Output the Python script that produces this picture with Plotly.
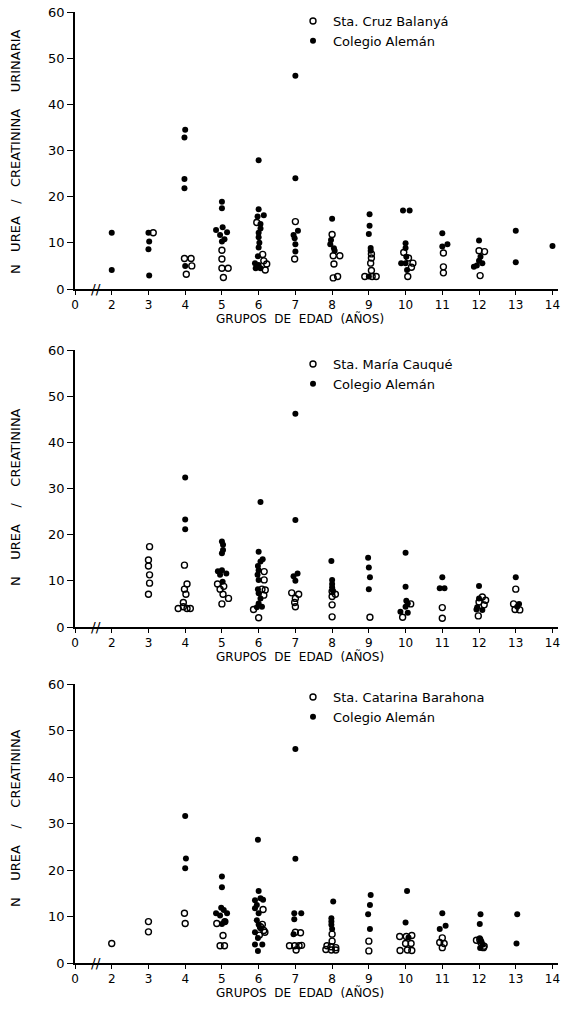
import plotly.graph_objects as go

# ---------------- data ----------------
# x = age group (the "0" tick sits at position 1, axis is broken between 0 and 2);
# small deviations from the integer age reproduce the side-by-side placement of points.
p1_open_x = [3.13, 3.98, 4.16, 4.18, 4.03, 5.0, 5.0, 5.0, 5.17, 5.04, 5.95, 6.11, 6.14, 6.22, 6.18,
             7.0, 6.98, 8.0, 8.03, 8.21, 8.05, 8.03, 8.15, 9.07, 9.07, 9.05, 9.07, 8.89, 9.09, 9.2,
             9.95, 10.08, 10.2, 10.16, 10.06, 11.03, 11.03, 11.03, 12.0, 12.15, 12.03]
p1_open_y = [12.2, 6.6, 6.6, 5.0, 3.2, 8.4, 6.5, 4.5, 4.5, 2.5, 14.4, 7.5, 6.1, 5.4, 4.1,
             14.6, 6.5, 11.8, 7.2, 7.2, 5.4, 2.4, 2.7, 7.6, 6.7, 5.6, 4.0, 2.7, 2.7, 2.7,
             7.9, 6.7, 5.6, 4.7, 2.7, 7.8, 4.8, 3.5, 8.3, 8.1, 2.9]
p1_fill_x = [2.0, 2.0, 3.0, 3.02, 3.0, 3.02, 4.0, 3.98, 3.98, 3.98, 4.0,
             5.0, 5.0, 4.84, 5.02, 4.95, 5.14, 5.07, 5.0,
             6.0, 6.0, 5.97, 6.14, 6.05, 6.05, 6.0, 6.0, 6.02, 6.0, 5.98, 5.9, 6.0, 5.92, 6.05,
             7.0, 7.0, 7.07, 6.95, 6.98, 7.0, 7.0,
             8.0, 7.97, 7.95, 8.05, 8.07, 9.02, 9.02, 9.0, 9.05, 9.05, 9.0,
             9.93, 10.11, 10.0, 10.0, 10.02, 9.88, 10.0, 10.04, 11.0, 11.0, 11.14,
             12.0, 12.04, 12.0, 12.09, 11.94, 11.86, 13.0, 13.0, 14.0]
p1_fill_y = [12.2, 4.1, 12.2, 10.3, 8.6, 2.9, 34.5, 32.8, 23.8, 21.8, 5.0,
             18.9, 17.5, 12.8, 13.4, 11.7, 12.3, 10.8, 10.3,
             27.9, 17.3, 15.7, 16.0, 14.1, 13.1, 12.2, 11.2, 10.0, 9.0, 7.1, 5.6, 5.2, 4.5, 4.5,
             46.2, 24.0, 12.6, 11.7, 11.0, 9.7, 8.1,
             15.2, 10.6, 9.7, 8.8, 8.3, 16.2, 13.7, 11.9, 8.9, 8.3, 2.7,
             17.0, 17.0, 9.9, 8.9, 7.0, 5.6, 5.6, 4.1, 12.1, 9.2, 9.7,
             10.5, 7.0, 6.1, 5.6, 5.1, 4.8, 12.6, 5.8, 9.3]

p2_open_x = [3.03, 3.0, 3.0, 3.03, 3.03, 3.0,
             3.98, 4.05, 3.98, 4.02, 3.95, 3.81, 3.95, 4.05, 4.14,
             4.88, 5.05, 4.95, 5.03, 5.18, 5.0,
             6.15, 6.15, 6.09, 6.18, 6.14, 5.86, 6.0,
             6.9, 7.09, 7.0, 6.98, 7.0, 8.0, 8.09, 8.0, 8.0, 8.0, 9.03, 10.14, 9.92, 11.0, 11.0,
             12.09, 12.18, 12.0, 12.14, 11.98, 13.0, 12.94, 12.98, 13.11]
p2_open_y = [17.4, 14.5, 13.2, 11.3, 9.5, 7.1,
             13.4, 9.3, 8.2, 7.1, 5.3, 4.0, 4.4, 4.0, 4.0,
             9.3, 8.8, 8.2, 7.1, 6.2, 5.0,
             12.0, 10.2, 8.2, 8.0, 6.9, 3.8, 2.0,
             7.4, 7.1, 6.2, 5.3, 4.4, 7.7, 7.1, 6.6, 4.8, 2.2, 2.1, 5.0, 2.1, 4.2, 1.9,
             6.5, 5.8, 5.4, 4.8, 2.4, 8.2, 5.0, 3.8, 3.7]
p2_fill_x = [4.0, 4.0, 4.0, 5.0, 5.03, 5.03, 5.0, 4.89, 5.0, 5.12, 4.95, 5.02,
             6.05, 6.0, 6.11, 6.05, 5.98, 6.0, 5.97, 6.0, 5.98, 6.0, 6.05, 6.0, 5.95, 6.09,
             7.0, 7.0, 7.06, 6.95, 7.0, 7.98, 8.0, 8.0, 8.0, 8.02, 8.98, 9.0, 9.03, 9.0,
             10.0, 10.0, 10.02, 10.06, 10.0, 9.86, 10.06, 11.0, 10.93, 11.06,
             12.0, 12.0, 11.95, 11.93, 12.09, 13.0, 13.09, 13.04]
p2_fill_y = [32.4, 23.3, 21.2, 18.5, 17.8, 16.7, 16.0, 12.1, 12.3, 11.6, 11.3, 9.8,
             27.1, 16.3, 14.7, 14.2, 13.2, 12.3, 11.3, 10.2, 8.2, 7.3, 6.2, 5.1, 4.3, 4.4,
             46.2, 23.2, 11.6, 11.0, 10.0, 14.3, 10.2, 9.3, 8.6, 7.9, 15.0, 12.9, 10.8, 8.2,
             16.1, 8.7, 5.7, 5.1, 4.4, 3.3, 3.1, 10.8, 8.4, 8.4,
             8.9, 6.2, 4.3, 3.8, 3.7, 10.8, 5.0, 4.4]

p3_open_x = [2.0, 3.0, 3.0, 3.98, 4.0, 4.86, 5.08, 5.03, 4.95, 5.07,
             6.12, 6.1, 6.05, 6.14, 6.17, 6.02,
             7.0, 7.14, 6.84, 6.98, 7.1, 7.17, 7.02,
             8.0, 8.0, 7.86, 7.97, 8.1, 7.83, 7.98, 8.1, 9.0, 9.0,
             9.84, 10.02, 10.17, 10.0, 10.15, 9.85, 10.05, 10.17,
             11.0, 10.93, 11.05, 11.0, 11.93, 12.02, 12.05, 12.14, 12.12]
p3_open_y = [4.2, 8.9, 6.7, 10.7, 8.5, 8.5, 8.9, 5.9, 3.7, 3.7,
             11.5, 8.3, 7.8, 7.0, 6.6, 6.0,
             6.6, 6.5, 3.7, 3.7, 3.7, 3.8, 2.8,
             6.2, 4.7, 3.7, 3.5, 3.3, 2.9, 2.8, 2.8, 4.7, 2.6,
             5.7, 5.7, 5.9, 4.2, 4.2, 2.7, 2.8, 2.7,
             5.4, 4.4, 4.2, 3.3, 4.9, 5.0, 4.4, 3.6, 3.3]
p3_fill_x = [4.0, 4.02, 4.0, 5.0, 5.0, 4.98, 5.05, 4.84, 5.14, 4.95, 5.08, 5.0,
             5.98, 6.0, 6.05, 5.9, 6.12, 5.95, 5.9, 6.0, 5.95, 6.0, 6.05, 5.9, 5.98, 5.9, 6.1, 5.98,
             7.0, 7.0, 6.97, 7.16, 6.97, 6.95, 8.03, 7.98, 7.98, 7.98, 8.0,
             9.05, 9.03, 8.98, 9.03, 10.04, 10.0, 10.08, 11.0, 11.09, 10.93,
             12.04, 12.02, 12.02, 12.06, 12.1, 12.03, 13.04, 13.02]
p3_fill_y = [31.6, 22.5, 20.4, 18.6, 16.3, 11.9, 11.4, 10.7, 10.7, 10.2, 8.9, 8.4,
             26.5, 15.5, 13.9, 13.5, 13.6, 12.5, 11.8, 10.7, 9.2, 8.3, 7.5, 6.6, 5.4, 4.0, 4.0, 2.6,
             46.0, 22.4, 10.7, 10.7, 9.4, 6.2, 13.2, 9.6, 8.9, 8.2, 7.3,
             14.6, 12.5, 10.5, 7.3, 15.5, 8.7, 5.5, 10.7, 8.0, 7.3,
             10.5, 8.4, 5.3, 4.6, 3.9, 3.2, 10.5, 4.2]

x_tickvals = [1, 2, 3, 4, 5, 6, 7, 8, 9, 10, 11, 12, 13, 14]
x_ticktext = ["0", "2", "3", "4", "5", "6", "7", "8", "9", "10", "11", "12", "13", "14"]
y_tickvals = [0, 10, 20, 30, 40, 50, 60]

open_names = ["Sta. Cruz Balanyá", "Sta. María Cauqué", "Sta. Catarina Barahona"]
fill_name = "Colegio Alemán"
NB = "\u00a0"
x_title = f"GRUPOS{NB} DE{NB} EDAD{NB} (AÑOS)"
y_titles = [f"N{NB*2} UREA{NB*2} /{NB*2} CREATININA{NB*3} URINARIA",
            f"N{NB*3} UREA{NB*3} /{NB*3} CREATININA",
            f"N{NB*3} UREA{NB*3} /{NB*3} CREATININA"]

# ---------------- figure ----------------
W, H = 564, 1011
FONT = "DejaVu Sans"
fig = go.Figure()

panels = [(p1_open_x, p1_open_y, p1_fill_x, p1_fill_y),
          (p2_open_x, p2_open_y, p2_fill_x, p2_fill_y),
          (p3_open_x, p3_open_y, p3_fill_x, p3_fill_y)]
legend_ids = ["legend", "legend2", "legend3"]

for i, (ox, oy, fx, fy) in enumerate(panels):
    xa = "x" if i == 0 else f"x{i+1}"
    ya = "y" if i == 0 else f"y{i+1}"
    fig.add_trace(go.Scatter(x=ox, y=oy, mode="markers", name=open_names[i],
                             xaxis=xa, yaxis=ya, legend=legend_ids[i], cliponaxis=False,
                             marker=dict(symbol="circle-open", size=6, color="black",
                                         line=dict(width=1.4, color="black"))))
    fig.add_trace(go.Scatter(x=fx, y=fy, mode="markers", name=fill_name,
                             xaxis=xa, yaxis=ya, legend=legend_ids[i], cliponaxis=False,
                             marker=dict(symbol="circle", size=6, color="black")))

# pixel rows of the 0 and 60 gridlines for each panel
rows = [(289, 12), (627, 350), (963, 684)]
legend_tops = [6, 349, 682]
ytitle_centers = [152, 497, 818]

L, R = 75, 6
plot_w = W - L - R
axis_common = dict(showgrid=False, zeroline=False, showline=True, linecolor="black",
                   linewidth=1.6, ticks="outside", tickcolor="black", tickwidth=1.4,
                   automargin=False,
                   tickfont=dict(family=FONT, size=12, color="black"))
layout = dict(width=W, height=H, margin=dict(l=L, r=R, t=0, b=0, autoexpand=False),
              paper_bgcolor="white", plot_bgcolor="white", showlegend=True,
              font=dict(family=FONT, color="black"))
annotations = []
for i in range(3):
    y0, y60 = rows[i]
    xk = "xaxis" if i == 0 else f"xaxis{i+1}"
    yk = "yaxis" if i == 0 else f"yaxis{i+1}"
    xr = "x" if i == 0 else f"x{i+1}"
    yr = "y" if i == 0 else f"y{i+1}"
    layout[xk] = dict(axis_common, domain=[0, 1], range=[1, 14.15], anchor=yr,
                      tickvals=x_tickvals, ticktext=x_ticktext, ticklen=4)
    layout[yk] = dict(axis_common, domain=[1 - y0 / H, 1 - y60 / H], range=[0, 60],
                      anchor=xr, tickvals=y_tickvals, ticklen=6,
                      tickfont=dict(family=FONT, size=13, color="black"))
    layout[legend_ids[i]] = dict(x=(293 - L) / plot_w, xanchor="left",
                                 y=1 - legend_tops[i] / H, yanchor="top",
                                 bgcolor="rgba(0,0,0,0)", borderwidth=0,
                                 font=dict(family=FONT, size=13, color="black"),
                                 tracegroupgap=0)
    # axis break mark
    annotations.append(dict(x=1.56, y=0, xref=xr, yref=yr, text="//", showarrow=False,
                            xanchor="center", yanchor="middle",
                            font=dict(family=FONT, size=14, color="black")))
    # x title, placed just under the tick labels
    annotations.append(dict(x=(300 - L) / plot_w, y=0, xref="paper", yref=f"{yr} domain",
                            yshift=-29, xanchor="center", yanchor="middle",
                            text=x_title, showarrow=False,
                            font=dict(family=FONT, size=12, color="black")))
    # y title
    annotations.append(dict(x=(15 - L) / plot_w, y=1 - ytitle_centers[i] / H, xref="paper",
                            yref="paper", text=y_titles[i], textangle=-90, showarrow=False,
                            xanchor="center", yanchor="middle",
                            font=dict(family=FONT, size=13, color="black")))
layout["annotations"] = annotations
fig.update_layout(**layout)
fig.write_html("out.html")
